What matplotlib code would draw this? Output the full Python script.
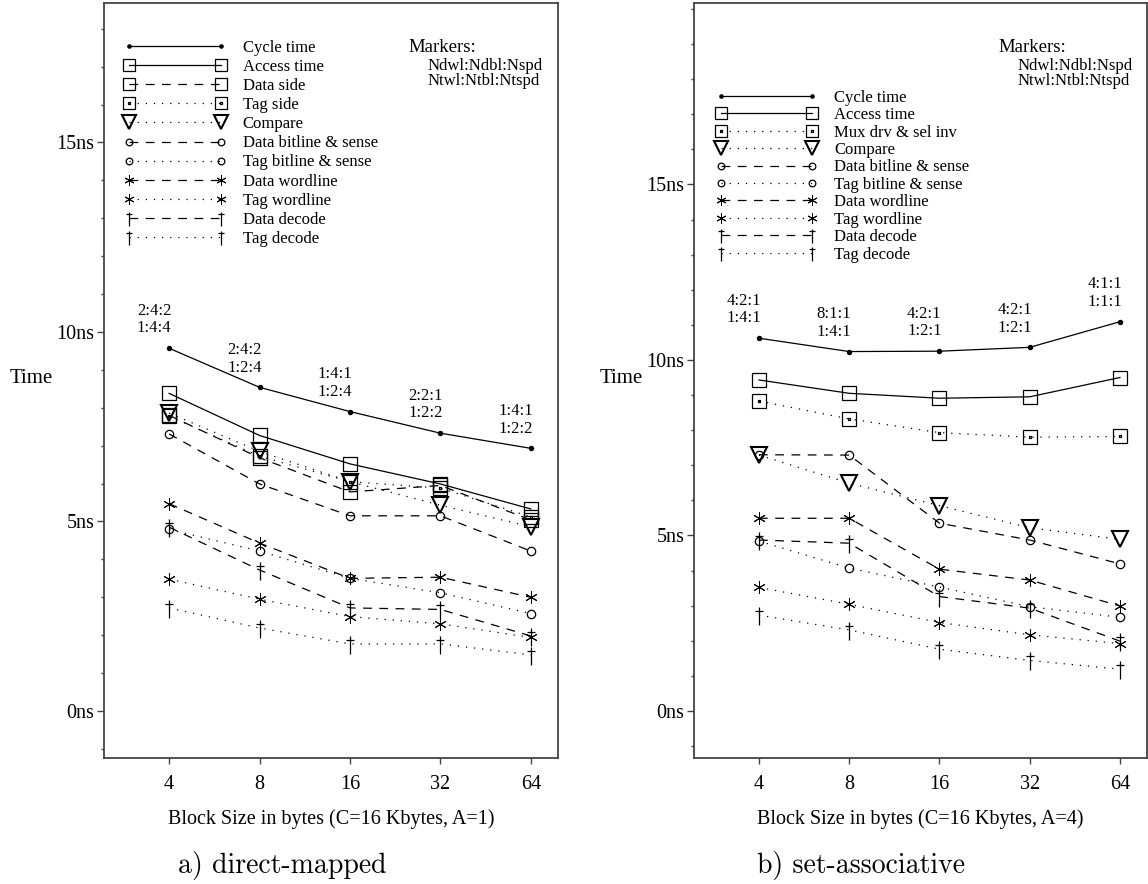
import numpy as np
import matplotlib
matplotlib.use('Agg')
import matplotlib.pyplot as plt
from matplotlib.path import Path
from matplotlib.ticker import MultipleLocator, FixedLocator, NullLocator

plt.rcParams['font.family'] = ['Liberation Serif', 'DejaVu Serif']

# data
block_sizes = [4, 8, 16, 32, 64]

# a) direct-mapped, C=16K, A=1
dm_cycle = [9.57, 8.54, 7.90, 7.33, 6.93]
dm_access = [8.38, 7.27, 6.52, 5.99, 5.33]
dm_data_side = [7.80, 6.68, 5.78, 5.95, 5.04]
dm_tag_side = [7.78, 6.72, 6.05, 5.88, 5.12]
dm_compare = [7.86, 6.85, 6.05, 5.43, 4.86]
dm_data_bitline = [7.31, 5.99, 5.15, 5.15, 4.22]
dm_tag_bitline = [4.79, 4.22, 3.50, 3.12, 2.57]
dm_data_wordline = [5.47, 4.43, 3.50, 3.53, 3.00]
dm_tag_wordline = [3.48, 2.95, 2.49, 2.30, 1.94]
dm_data_decode = [4.85, 3.72, 2.72, 2.68, 1.98]
dm_tag_decode = [2.72, 2.19, 1.77, 1.77, 1.48]
dm_markers = ['2:4:2\n1:4:4', '2:4:2\n1:2:4', '1:4:1\n1:2:4', '2:2:1\n1:2:2', '1:4:1\n1:2:2']

# b) set-associative, C=16K, A=4
sa_cycle = [10.62, 10.24, 10.25, 10.36, 11.09]
sa_access = [9.43, 9.05, 8.91, 8.95, 9.50]
sa_mux = [8.83, 8.32, 7.93, 7.80, 7.82]
sa_compare = [7.29, 6.49, 5.85, 5.22, 4.89]
sa_data_bitline = [7.30, 7.29, 5.35, 4.87, 4.19]
sa_tag_bitline = [4.84, 4.07, 3.53, 2.97, 2.67]
sa_data_wordline = [5.49, 5.49, 4.04, 3.73, 2.99]
sa_tag_wordline = [3.52, 3.04, 2.52, 2.17, 1.92]
sa_data_decode = [4.87, 4.78, 3.26, 2.93, 1.99]
sa_tag_decode = [2.73, 2.31, 1.76, 1.44, 1.19]
sa_markers = ['4:2:1\n1:4:1', '8:1:1\n1:4:1', '4:2:1\n1:2:1', '4:2:1\n1:2:1', '4:1:1\n1:1:1']

# marker shapes
sq = [(-1, -1), (1, -1), (1, 1), (-1, 1), (-1, -1)]
d = 0.1
dot = [(-d, -d), (d, -d), (d, d), (-d, d), (-d, -d)]
square_m = Path(sq, [Path.MOVETO] + [Path.LINETO] * 3 + [Path.CLOSEPOLY])
dotsq_m = Path(sq + dot, ([Path.MOVETO] + [Path.LINETO] * 3 + [Path.CLOSEPOLY]) * 2)
dagger_m = Path([(0, -1.1), (0, 0.9), (-0.42, 0.5), (0.42, 0.5)],
                [Path.MOVETO, Path.LINETO, Path.MOVETO, Path.LINETO])

solid = '-'
dashed = (0, (7, 6))
dotted = (0, (1, 5.5))

# style per kind
sty = {
    'cycle': dict(marker='o', ms=3, mfc='k', ls=solid),
    'access': dict(marker=square_m, ms=10, mfc='none', ls=solid),
    'dside': dict(marker=square_m, ms=10, mfc='none', ls=dashed),
    'tside': dict(marker=dotsq_m, ms=10, mfc='none', ls=dotted),
    'compare': dict(marker='v', ms=12, mfc='none', mew=1.5, ls=dotted),
    'dbit': dict(marker='o', ms=6, mfc='none', ls=dashed),
    'tbit': dict(marker='o', ms=6, mfc='none', ls=dotted),
    'dword': dict(marker=(6, 2, 0), ms=9, mew=0.7, ls=dashed),
    'tword': dict(marker=(6, 2, 0), ms=9, mew=0.7, ls=dotted),
    'ddec': dict(marker=dagger_m, ms=14, ls=dashed),
    'tdec': dict(marker=dagger_m, ms=14, ls=dotted),
}


def panel(ax, series, marks, ylim, leg_anchor, leg_space, xlabel):
    for key, vals, lab in series:
        s = dict(sty[key])
        s.setdefault('mew', 0.9)
        ax.plot(block_sizes, vals, color='k', lw=0.9, mec='k', label=lab, **s)
    cyc = series[0][1]
    for x, y, t in zip(block_sizes, cyc, marks):
        ax.annotate(t, (x, y), xytext=(1.5, 8.5), textcoords='offset points',
                    ha='right', va='bottom', fontsize=12, linespacing=1.15)
    ax.set_xscale('log', base=2)
    ax.set_xlim(4 / 2 ** 0.72, 64 * 2 ** 0.30)
    ax.set_ylim(*ylim)
    ax.xaxis.set_major_locator(FixedLocator(block_sizes))
    ax.xaxis.set_minor_locator(NullLocator())
    ax.set_xticklabels([str(b) for b in block_sizes])
    ax.yaxis.set_major_locator(FixedLocator([0, 5, 10, 15]))
    ax.set_yticklabels(['0ns', '5ns', '10ns', '15ns'])
    ax.yaxis.set_minor_locator(MultipleLocator(1))
    ax.tick_params(which='both', direction='out', labelsize=14.5, width=1, color='#444')
    ax.tick_params(axis='y', which='major', length=5, pad=2)
    ax.tick_params(axis='y', which='minor', length=2.5)
    ax.tick_params(axis='x', which='major', length=4.5, pad=8)
    for sp in ax.spines.values():
        sp.set_linewidth(1.3)
        sp.set_color('#444')
    ax.set_ylabel('Time', rotation=0, fontsize=15, ha='right', va='center')
    ax.yaxis.set_label_coords(-0.112, 0.503)
    ax.set_xlabel(xlabel, fontsize=14.5, va='center')
    ax.xaxis.set_label_coords(0.5, -0.081)
    ax.legend(loc='upper left', bbox_to_anchor=leg_anchor, frameon=False, numpoints=2,
              fontsize=12, handlelength=6.1, handletextpad=1.0, labelspacing=leg_space,
              borderpad=0, borderaxespad=0, markerscale=0.8)


W, H = 1148, 884
fig = plt.figure(figsize=(W / 100, H / 100), dpi=100)
ax1 = fig.add_axes([104 / W, 126 / H, 454 / W, 755 / H])
ax2 = fig.add_axes([694 / W, 126 / H, 453 / W, 755 / H])

panel(ax1, [('cycle', dm_cycle, 'Cycle time'), ('access', dm_access, 'Access time'),
            ('dside', dm_data_side, 'Data side'), ('tside', dm_tag_side, 'Tag side'),
            ('compare', dm_compare, 'Compare'),
            ('dbit', dm_data_bitline, 'Data bitline & sense'),
            ('tbit', dm_tag_bitline, 'Tag bitline & sense'),
            ('dword', dm_data_wordline, 'Data wordline'),
            ('tword', dm_tag_wordline, 'Tag wordline'),
            ('ddec', dm_data_decode, 'Data decode'),
            ('tdec', dm_tag_decode, 'Tag decode')],
      dm_markers, (-1.24, 18.68), (0.045, 0.951), 0.185,
      'Block Size in bytes (C=16 Kbytes, A=1)')

panel(ax2, [('cycle', sa_cycle, 'Cycle time'), ('access', sa_access, 'Access time'),
            ('tside', sa_mux, 'Mux drv & sel inv'),
            ('compare', sa_compare, 'Compare'),
            ('dbit', sa_data_bitline, 'Data bitline & sense'),
            ('tbit', sa_tag_bitline, 'Tag bitline & sense'),
            ('dword', sa_data_wordline, 'Data wordline'),
            ('tword', sa_tag_wordline, 'Tag wordline'),
            ('ddec', sa_data_decode, 'Data decode'),
            ('tdec', sa_tag_decode, 'Tag decode')],
      sa_markers, (-1.34, 20.17), (0.048, 0.885), 0.085,
      'Block Size in bytes (C=16 Kbytes, A=4)')

# "Markers:" notes
for x0 in (408, 998):
    fig.text(x0 / W, 1 - 47 / H, 'Markers:', fontsize=13.5, va='center')
    fig.text((x0 + 20) / W, 1 - 66 / H, 'Ndwl:Ndbl:Nspd', fontsize=12, va='center')
    fig.text((x0 + 20) / W, 1 - 81 / H, 'Ntwl:Ntbl:Ntspd', fontsize=12, va='center')

# captions
fig.text(282 / W, 1 - 865 / H, 'a) direct-mapped', family='cmr10', fontsize=20,
         ha='center', va='center')
fig.text(861 / W, 1 - 865 / H, 'b) set-associative', family='cmr10', fontsize=20,
         ha='center', va='center')

fig.savefig('out.png', dpi=100)
